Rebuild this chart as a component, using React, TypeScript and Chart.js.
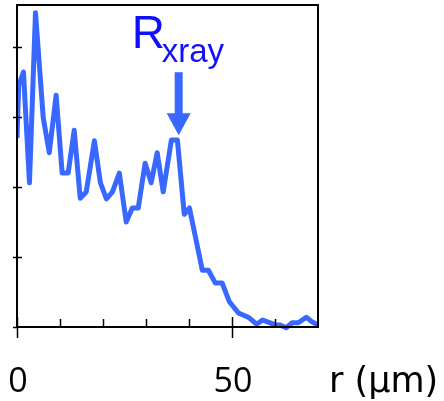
import React, { useEffect, useRef } from "react";
import { Chart, registerables } from "chart.js";

Chart.register(...registerables);

// radius (µm)
const rValues = [0, 0.4, 1.5, 2.9, 4.3, 6.1, 7.5, 9.1, 10.5, 11.9, 13.3, 14.7, 16.1, 18.0, 19.4, 20.8, 22.2, 23.8, 25.4, 26.8, 28.2, 29.8, 31.2, 32.6, 34.0, 35.9, 37.3, 38.9, 40.1, 43.1, 44.5, 46.1, 47.7, 49.4, 51.5, 53.8, 55.7, 57.1, 58.4, 60.1, 61.2, 62.6, 64.0, 65.4, 67.3, 68.7, 70.0];
// intensity (arb. units)
const intensity = [2.7, 3.45, 3.64, 2.06, 4.49, 2.99, 2.49, 3.31, 2.2, 2.2, 2.81, 1.84, 1.93, 2.66, 2.06, 1.83, 1.93, 2.2, 1.5, 1.7, 1.7, 2.34, 2.06, 2.49, 1.93, 2.67, 2.67, 1.61, 1.7, 0.81, 0.81, 0.63, 0.63, 0.36, 0.2, 0.14, 0.04, 0.1, 0.07, 0.03, 0.03, -0.01, 0.06, 0.06, 0.14, 0.07, 0.03];

const xMajorTicks = [0, 50];
const xMinorTicks = [10, 20, 30, 40, 60];
const yTicks = [1, 2, 3, 4];
const xTickLabels = ["0", "50"];
const xAxisTitle = "r (µm)";
const annotationMain = "R";
const annotationSub = "xray";
const annotationR = 37.6;
const annotationValue = 2.74;

const LINE_BLUE = "rgb(56,104,255)";

const overlayPlugin = {
  id: "overlay",
  afterDraw(chart: any) {
    const ctx = chart.ctx as CanvasRenderingContext2D;
    const { left, right, top, bottom } = chart.chartArea;
    const xs = chart.scales.x;
    const ys = chart.scales.y;
    ctx.save();
    // box
    ctx.strokeStyle = "#000";
    ctx.lineWidth = 2;
    ctx.strokeRect(left, top, right - left, bottom - top);
    // x ticks
    ctx.lineWidth = 1.5;
    ctx.beginPath();
    xMinorTicks.forEach((v) => {
      const px = Math.round(xs.getPixelForValue(v)) + 0.5;
      ctx.moveTo(px, bottom);
      ctx.lineTo(px, bottom - 8);
    });
    xMajorTicks.forEach((v) => {
      const px = Math.round(xs.getPixelForValue(v)) + 0.5;
      ctx.moveTo(px, bottom - 10);
      ctx.lineTo(px, bottom + 11);
    });
    yTicks.forEach((v) => {
      const py = Math.round(ys.getPixelForValue(v)) + 0.5;
      ctx.moveTo(left - 4, py);
      ctx.lineTo(left + 5, py);
    });
    const p0 = Math.round(ys.getPixelForValue(0)) + 0.5;
    ctx.moveTo(left - 4, p0);
    ctx.lineTo(left, p0);
    ctx.stroke();

    // tick labels
    ctx.fillStyle = "#000";
    ctx.textAlign = "center";
    ctx.textBaseline = "alphabetic";
    ctx.font = '34px "Open Sans"';
    xMajorTicks.forEach((v, i) => {
      ctx.fillText(xTickLabels[i], xs.getPixelForValue(v) + 1, 392);
    });
    ctx.textAlign = "left";
    ctx.font = '35px "DejaVu Sans"';
    ctx.fillText(xAxisTitle, right + 11, 392);

    // annotation arrow
    const ax = xs.getPixelForValue(annotationR);
    const ay = ys.getPixelForValue(annotationValue);
    ctx.fillStyle = LINE_BLUE;
    ctx.fillRect(ax - 4, ay - 63, 8, 44);
    ctx.beginPath();
    ctx.moveTo(ax - 12, ay - 22);
    ctx.lineTo(ax + 12, ay - 22);
    ctx.lineTo(ax, ay);
    ctx.closePath();
    ctx.fill();

    // annotation text
    ctx.fillStyle = "#1010ff";
    ctx.font = '46px "Liberation Sans"';
    ctx.textAlign = "left";
    ctx.fillText(annotationMain, ax - 47, ay - 87);
    ctx.font = '33px "Liberation Sans"';
    ctx.fillText(annotationSub, ax - 17, ay - 73);
    ctx.restore();
  },
};

export default function App() {
  const ref = useRef<HTMLCanvasElement>(null);
  useEffect(() => {
    if (!ref.current) return;
    const chart = new Chart(ref.current, {
      type: "line",
      data: {
        datasets: [
          {
            data: rValues.map((r, i) => ({ x: r, y: intensity[i] })),
            borderColor: LINE_BLUE,
            borderWidth: 5,
            pointRadius: 0,
            tension: 0,
            fill: false,
            borderJoinStyle: "round",
            borderCapStyle: "butt",
            clip: { left: 0, top: 5, right: 3, bottom: 4 } as any,
          },
        ],
      },
      options: {
        responsive: false,
        animation: false,
        layout: { padding: { left: 17, top: 5, right: 126, bottom: 74 } },
        plugins: { legend: { display: false }, tooltip: { enabled: false } },
        scales: {
          x: { type: "linear", min: 0, max: 70, display: false },
          y: { type: "linear", min: 0, max: 4.6, display: false },
        },
      },
      plugins: [overlayPlugin],
    });
    return () => chart.destroy();
  }, []);
  return (
    <div style={{ position: "fixed", left: 0, top: 0, width: 444, height: 401, background: "#fff" }}>
      <canvas ref={ref} width={444} height={401} style={{ width: 444, height: 401, display: "block" }} />
    </div>
  );
}
